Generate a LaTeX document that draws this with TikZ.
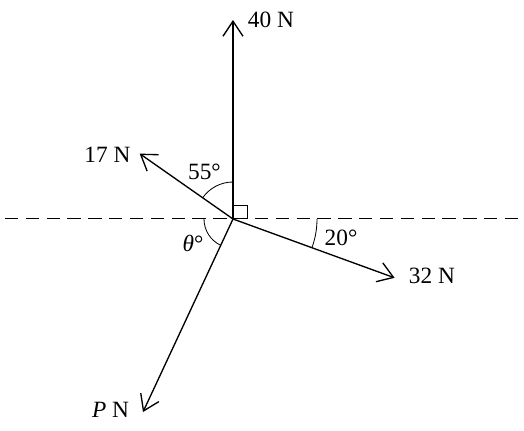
\documentclass[tikz,border=0pt]{standalone}
\usepackage{fontspec}
\setmainfont{Liberation Serif}
\usetikzlibrary{arrows.meta}

\tikzset{
  force/.style={line width=0.8pt, -{Straight Barb[length=9pt,width=12pt,line width=0.8pt]}},
  angarc/.style={line width=0.5pt},
  lbl/.style={inner sep=0pt, font=\fontsize{14}{16}\selectfont}
}

\begin{document}
\begin{tikzpicture}[x=0.6pt,y=0.6pt]
\useasboundingbox (-233,-211) rectangle (291,219);
\coordinate (O) at (0,0);
\coordinate (Lft) at (-228,0);
\coordinate (Rgt) at (287,0);
\coordinate (F40) at (90:199);
\coordinate (F17) at (145:114);
\coordinate (F32) at (-20:172);
\coordinate (FP) at (245:213);

% horizontal reference line
\draw[line width=0.6pt, dash pattern=on 8pt off 4.5pt] (Lft) -- (Rgt);

% forces
\draw[force] (O) -- (F40);
\draw[force] (O) -- (F17);
\draw[force] (O) -- (F32);
\draw[force] (O) -- (FP);

% angles
\draw[angarc] (O) ++(0,14) -| ++(14,-14);
\draw[angarc] (O) ++(90:37) arc (90:145:37);
\draw[angarc] (O) ++(180:29) arc (180:245:29);
\draw[angarc] (O) ++(-20:84) arc (-20:0:84);

% labels
\node[lbl] (t40) at (38,199) {40 N};
\node[lbl] (t17) at (-125.5,64) {17 N};
\node[lbl] (t32) at (199,-57) {32 N};
\node[lbl] (tP) at (-122.5,-191) {\textit{P} N};
\node[lbl] (a55) at (-28.5,47) {55°};
\node[lbl] (ath) at (-40,-24) {\textit{θ}°};
\node[lbl] (a20) at (108,-19) {20°};
\end{tikzpicture}
\end{document}
